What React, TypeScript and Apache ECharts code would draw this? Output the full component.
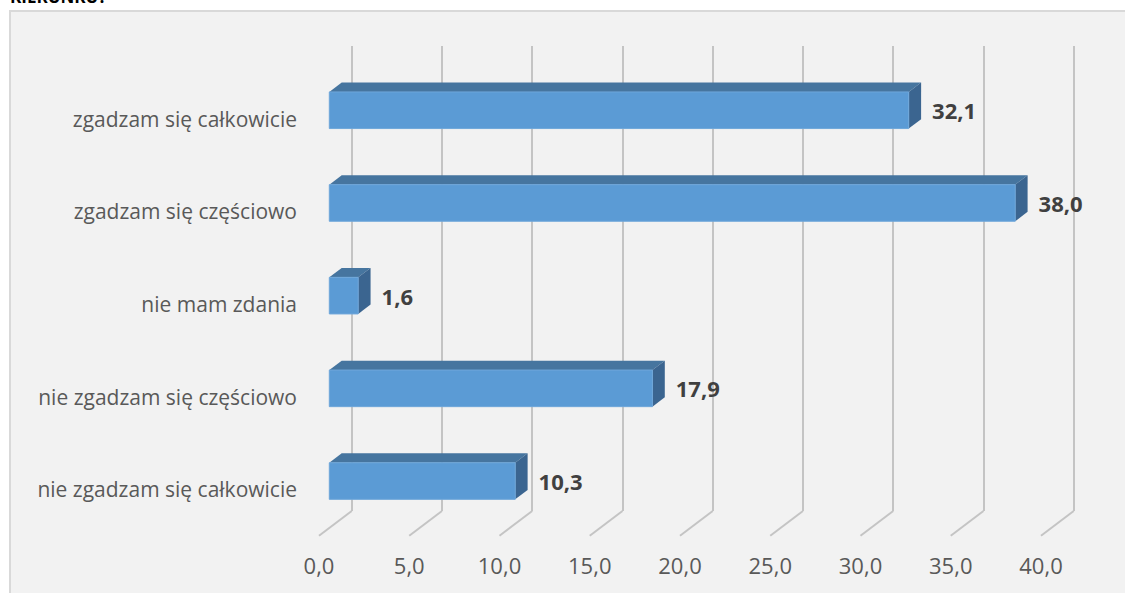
import React, { useEffect, useRef } from "react";
import * as echarts from "echarts";

const title = "KIERUNKU?";
const categories = [
  "zgadzam się całkowicie",
  "zgadzam się częściowo",
  "nie mam zdania",
  "nie zgadzam się częściowo",
  "nie zgadzam się całkowicie",
];
const values = [32.1, 38.0, 1.6, 17.9, 10.3];
const tickValues = [0, 5, 10, 15, 20, 25, 30, 35, 40];

const fmt = (v: number) => Number(v).toFixed(1).replace(".", ",");

export default function App() {
  const ref = useRef<HTMLDivElement>(null);
  useEffect(() => {
    document.body.style.margin = "0";
    const chart = echarts.init(ref.current!, null, { renderer: "svg" });
    const DX = 12.4;
    const DY = -9.4;
    const FONT = "'Open Sans', sans-serif";
    const option: any = {
      animation: false,
      backgroundColor: "#ffffff",
      graphic: [
        {
          type: "rect",
          z: -10,
          shape: { x: 10, y: 11, width: 1200, height: 700 },
          style: { fill: "#f2f2f2", stroke: "#d9d9d9", lineWidth: 2 },
        },
        {
          type: "text",
          x: 10,
          y: 5,
          style: {
            text: title,
            fontSize: 17,
            fontWeight: "bold",
            fontFamily: FONT,
            fill: "#000000",
            verticalAlign: "bottom",
          },
        },
      ],
      grid: [
        { left: 351.7, width: 722, top: 46, height: 465 },
        { left: 319, width: 722, top: 72.2, height: 463.5 },
      ],
      xAxis: [
        {
          gridIndex: 0,
          type: "value",
          min: 0,
          max: 40,
          interval: 5,
          axisLine: { show: false },
          axisTick: { show: false },
          axisLabel: { show: false },
          splitLine: { show: true, lineStyle: { color: "#c4c4c4", width: 2 } },
        },
        {
          gridIndex: 1,
          type: "value",
          min: 0,
          max: 40,
          interval: 5,
          axisLine: { show: false },
          axisTick: { show: false },
          splitLine: { show: false },
          axisLabel: {
            formatter: fmt,
            color: "#595959",
            fontSize: 22,
            fontFamily: FONT,
            margin: 18,
          },
        },
      ],
      yAxis: [
        { gridIndex: 0, type: "value", min: 0, max: 1, show: false },
        {
          gridIndex: 1,
          type: "category",
          inverse: true,
          data: categories,
          axisLine: { show: false },
          axisTick: { show: false },
          splitLine: { show: false },
          axisLabel: { color: "#595959", fontSize: 21, fontFamily: FONT, margin: 22 },
        },
      ],
      series: [
        {
          type: "custom",
          xAxisIndex: 0,
          yAxisIndex: 0,
          silent: true,
          data: tickValues.map((v) => [v, 0]),
          renderItem: (_p: any, api: any) => {
            const p = api.coord([api.value(0), 0]);
            return {
              type: "line",
              shape: { x1: p[0], y1: p[1], x2: p[0] - 32.7, y2: p[1] + 24.7 },
              style: { stroke: "#c4c4c4", lineWidth: 2 },
            };
          },
        },
        {
          type: "custom",
          xAxisIndex: 1,
          yAxisIndex: 1,
          data: values.map((v, i) => [v, i]),
          renderItem: (_p: any, api: any) => {
            const v = api.value(0);
            const i = api.value(1);
            const p0 = api.coord([0, i]);
            const p1 = api.coord([v, i]);
            const xl = p0[0] + 10.3;
            const xr = p1[0] + 10.3;
            const yc = p1[1] - 8.3;
            const h = 36.6;
            const yt = yc - h / 2;
            const yb = yc + h / 2;
            return {
              type: "group",
              children: [
                {
                  type: "polygon",
                  shape: { points: [[xl, yt], [xl + DX, yt + DY], [xr + DX, yt + DY], [xr, yt]] },
                  style: { fill: "#46759f" },
                },
                {
                  type: "polygon",
                  shape: { points: [[xr, yt], [xr + DX, yt + DY], [xr + DX, yb + DY], [xr, yb]] },
                  style: { fill: "#3b6590" },
                },
                {
                  type: "rect",
                  shape: { x: xl, y: yt, width: xr - xl, height: h },
                  style: { fill: "#5b9bd5", stroke: "#6fa7da", lineWidth: 1 },
                },
                {
                  type: "text",
                  x: xr + DX + 11,
                  y: yc,
                  style: {
                    text: fmt(v),
                    fontSize: 22,
                    fontWeight: "bold",
                    fontFamily: FONT,
                    fill: "#404040",
                    align: "left",
                    verticalAlign: "middle",
                  },
                },
              ],
            };
          },
        },
      ],
    };
    chart.setOption(option);
    return () => chart.dispose();
  }, []);
  return (
    <div
      ref={ref}
      style={{ position: "absolute", left: 0, top: 0, width: 1125, height: 593 }}
    />
  );
}
